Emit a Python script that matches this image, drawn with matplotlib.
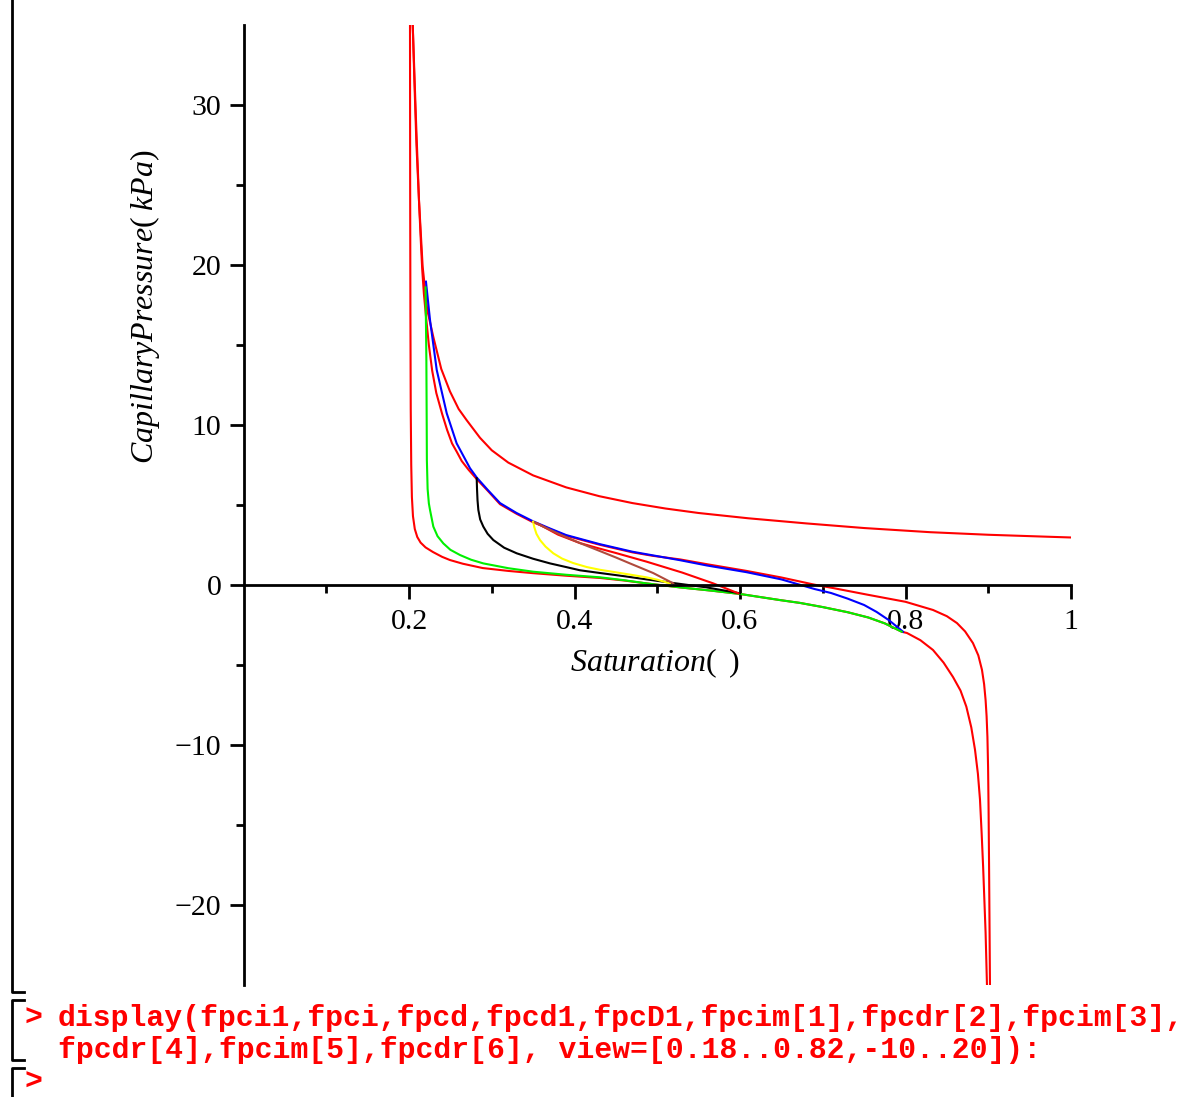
import matplotlib
matplotlib.use("Agg")
import matplotlib.pyplot as plt
from matplotlib.lines import Line2D

plt.rcParams["font.family"] = "Liberation Serif"
plt.rcParams["mathtext.fontset"] = "custom"
plt.rcParams["mathtext.it"] = "Liberation Serif:italic"
plt.rcParams["mathtext.rm"] = "Liberation Serif"

# ─── curves (Sw, Pc in kPa) ──────────────────────────────────────────────────
# primary imbibition (lowest red), hidden under green between 0.45 and 0.8
imb_x = [0.2012, 0.2014, 0.2017, 0.2021, 0.2027, 0.2035, 0.2048, 0.2070, 0.2100,
         0.2140, 0.2200, 0.2290, 0.2400, 0.2495, 0.2650, 0.2890, 0.3200, 0.3500,
         0.3900, 0.4310, 0.4600, 0.4870, 0.5275, 0.5650, 0.6000, 0.6480, 0.6725,
         0.7000, 0.7300, 0.7550, 0.7750, 0.7954, 0.8018, 0.8180, 0.8332, 0.8460,
         0.8574, 0.8665, 0.8735, 0.8795, 0.8840, 0.8875, 0.8900, 0.8920, 0.8938,
         0.8968, 0.8985]
imb_y = [35.0, 25.0, 17.0, 11.0, 7.5, 5.5, 4.3, 3.5, 3.0,
         2.65, 2.35, 2.06, 1.76, 1.56, 1.33, 1.06, 0.88, 0.74,
         0.58, 0.44, 0.28, 0.10, -0.15, -0.35, -0.56, -0.94, -1.12,
         -1.38, -1.70, -2.03, -2.40, -2.92, -3.00, -3.45, -4.06, -4.85,
         -5.75, -6.60, -7.60, -8.90, -10.3, -11.8, -13.4, -15.5, -17.6,
         -21.75, -25.1]

# main drainage (middle red), under the blue one up to ~0.6
drn_x = [0.2045, 0.2085, 0.2121, 0.2140, 0.2160, 0.2180, 0.2205, 0.2240, 0.2280,
         0.2330, 0.2400, 0.2460, 0.2520, 0.2580, 0.2637, 0.2720, 0.2818, 0.2950,
         0.3100, 0.3300, 0.3500, 0.3700, 0.3900, 0.4100, 0.4300, 0.4500, 0.4700,
         0.4950, 0.5275, 0.5600, 0.6080, 0.6500, 0.6900, 0.7124, 0.7535, 0.8000,
         0.8332, 0.8500, 0.8622, 0.8720, 0.8815, 0.8880, 0.8924, 0.8950, 0.8968,
         0.8980, 0.8990, 0.8998, 0.9004, 0.9010, 0.9015, 0.9021]
drn_y = [35.0, 29.0, 24.0, 21.8, 19.7, 18.2, 16.8, 15.0, 13.4,
         12.0, 10.7, 9.7, 8.85, 8.3, 7.75, 7.2, 6.62, 5.9,
         5.05, 4.45, 3.92, 3.5, 3.08, 2.80, 2.52, 2.28, 2.04,
         1.82, 1.60, 1.30, 0.88, 0.47, 0.02, -0.19, -0.60, -1.05,
         -1.56, -1.95, -2.38, -2.90, -3.63, -4.40, -5.30, -6.20, -7.20,
         -8.20, -9.50, -11.4, -14.0, -17.6, -21.0, -25.1]

# upper red (runs out to Sw = 1)
upp_x = [0.2045, 0.2065, 0.2090, 0.2121, 0.2165, 0.2220, 0.2294, 0.2390, 0.2495,
         0.2600, 0.2697, 0.2858, 0.3000, 0.3200, 0.3500, 0.3900, 0.4300, 0.4700,
         0.5100, 0.5500, 0.6100, 0.6800, 0.7500, 0.8300, 0.9000, 0.9700, 1.0000]
upp_y = [35.0, 31.5, 27.5, 24.0, 19.9, 17.2, 15.5, 13.5, 12.1,
         11.0, 10.3, 9.2, 8.42, 7.65, 6.85, 6.10, 5.55, 5.12,
         4.78, 4.50, 4.17, 3.85, 3.56, 3.30, 3.14, 3.02, 2.97]

# blue scanning drainage from Sw = 0.22
blu_x = [0.2205, 0.2254, 0.2335, 0.2456, 0.2576, 0.2737, 0.2818, 0.2950, 0.3100,
         0.3300, 0.3500, 0.3700, 0.3900, 0.4100, 0.4300, 0.4500, 0.4700, 0.4950,
         0.5275, 0.5600, 0.6080, 0.6500, 0.6720, 0.6900, 0.7100, 0.7300, 0.7500,
         0.7650, 0.7800, 0.7970]
blu_y = [18.96, 16.56, 13.44, 10.73, 8.85, 7.30, 6.72, 5.95, 5.12,
         4.50, 3.98, 3.54, 3.12, 2.84, 2.56, 2.32, 2.08, 1.85,
         1.55, 1.22, 0.80, 0.35, 0.02, -0.25, -0.50, -0.85, -1.25,
         -1.68, -2.20, -2.92]

# green scanning imbibition from Sw = 0.22
grn_x = [0.2200, 0.2210, 0.2214, 0.2216, 0.2225, 0.2240, 0.2254, 0.2294, 0.2345,
         0.2415, 0.2500, 0.2616, 0.2750, 0.2898, 0.3200, 0.3502, 0.3900, 0.4308,
         0.4600, 0.4870, 0.5275, 0.5650, 0.6000, 0.6480, 0.6725, 0.7000, 0.7300,
         0.7550, 0.7750, 0.7954]
grn_y = [18.6, 14.0, 10.0, 7.8, 6.0, 5.1, 4.69, 3.65, 3.05,
         2.60, 2.20, 1.875, 1.58, 1.35, 1.05, 0.83, 0.64, 0.48,
         0.30, 0.10, -0.15, -0.35, -0.56, -0.94, -1.12, -1.38, -1.70,
         -2.03, -2.40, -2.92]

# black scanning imbibition from Sw = 0.28
blk_x = [0.2818, 0.2822, 0.2828, 0.2838, 0.2860, 0.2898, 0.2950, 0.3019, 0.3150,
         0.3302, 0.3500, 0.3704, 0.3900, 0.4066, 0.4308, 0.4600, 0.4870, 0.5200,
         0.5597, 0.6000]
blk_y = [6.67, 6.00, 5.30, 4.69, 4.10, 3.65, 3.20, 2.81, 2.33,
         1.98, 1.64, 1.35, 1.12, 0.92, 0.75, 0.55, 0.35, 0.12,
         -0.15, -0.52]

# yellow scanning imbibition from Sw = 0.35
yel_x = [0.3500, 0.3515, 0.3540, 0.3583, 0.3650, 0.3744, 0.3850, 0.3985, 0.4150,
         0.4308, 0.4469, 0.4670, 0.4870, 0.5000, 0.5154]
yel_y = [3.96, 3.60, 3.20, 2.81, 2.40, 1.98, 1.65, 1.37, 1.12,
         0.95, 0.82, 0.65, 0.48, 0.33, 0.10]

# brown and red scanning curves leaving the envelope near Sw = 0.35
brn_x = [0.3520, 0.3623, 0.3850, 0.4066, 0.4308, 0.4500, 0.4670, 0.4950, 0.5194]
brn_y = [3.92, 3.65, 3.10, 2.62, 2.12, 1.72, 1.35, 0.75, 0.10]

rsc_x = [0.3550, 0.3800, 0.4066, 0.4300, 0.4500, 0.4870, 0.5300, 0.5677, 0.5980]
rsc_y = [3.85, 3.15, 2.62, 2.28, 2.00, 1.46, 0.78, 0.10, -0.52]

xticks = [0.2, 0.4, 0.6, 0.8, 1.0]
xtick_labels = ["0.2", "0.4", "0.6", "0.8", "1"]
yticks = [-20, -10, 0, 10, 20, 30]
ytick_labels = ["\u221220", "\u221210", "0", "10", "20", "30"]

line1 = "display(fpci1,fpci,fpcd,fpcd1,fpcD1,fpcim[1],fpcdr[2],fpcim[3],"
line2 = "fpcdr[4],fpcim[5],fpcdr[6], view=[0.18..0.82,-10..20]):"

# ─── figure ──────────────────────────────────────────────────────────────────
W, H = 1186, 1097
fig = plt.figure(figsize=(W / 100, H / 100), dpi=100)
ax = fig.add_axes([243.5 / W, 1 - 985 / H, 827.5 / W, 960 / H])
ax.set_xlim(0, 1)
ax.set_ylim(-25, 35)

lw = 1.5
ax.plot(upp_x, upp_y, color="#ff0000", lw=lw)
ax.plot(drn_x, drn_y, color="#ff0000", lw=lw)
ax.plot(imb_x, imb_y, color="#ff0000", lw=lw)
ax.plot(blu_x, blu_y, color="#0000ff", lw=lw)
ax.plot(grn_x, grn_y, color="#00f000", lw=lw)
ax.plot(blk_x, blk_y, color="black", lw=lw)
ax.plot(yel_x, yel_y, color="#ffff00", lw=lw)
ax.plot(rsc_x, rsc_y, color="#ff0000", lw=lw)
ax.plot(brn_x, brn_y, color="#b04a3c", lw=lw)

for s in ["top", "right"]:
    ax.spines[s].set_visible(False)
ax.spines["bottom"].set_position(("data", 0))
ax.spines["left"].set_position(("data", 0))
for s in ["bottom", "left"]:
    ax.spines[s].set_linewidth(2.0)

ax.set_xticks(xticks)
ax.set_xticklabels(xtick_labels)
ax.set_xticks([0.1, 0.3, 0.5, 0.7, 0.9], minor=True)
ax.set_yticks(yticks)
ax.set_yticklabels(ytick_labels)
ax.set_yticks([-15, -5, 5, 15, 25], minor=True)
ax.tick_params(which="major", direction="out", length=10, width=2.0,
               labelsize=21.5, pad=7)
ax.tick_params(which="minor", direction="out", length=6, width=2.0)
ax.tick_params(axis="y", pad=6)

fig.text(655 / W, 1 - 663 / H, r"$Saturation(\;\;)$", fontsize=23,
         ha="center", va="center")
fig.text(145 / W, 1 - 307 / H, r"$CapillaryPressure(\;kPa)$", fontsize=23,
         ha="center", va="center", rotation=90)

# ─── worksheet brackets and input line ───────────────────────────────────────
def px_line(xs, ys, color="black", lw=2.0):
    fig.add_artist(Line2D([x / W for x in xs], [1 - y / H for y in ys],
                          color=color, lw=lw, transform=fig.transFigure))

px_line([12, 12, 24], [0, 992, 992])
px_line([24, 12, 12, 24], [1000, 1000, 1060, 1060])
px_line([24, 12, 12], [1068, 1068, 1097])

mono = dict(family="Liberation Mono", weight="bold", color="#ff0000",
            fontsize=21.4, va="center", ha="left")
fig.text(24 / W, 1 - 1018 / H, ">", **mono)
fig.text(24 / W, 1 - 1082 / H, ">", **mono)
fig.text(58 / W, 1 - 1018 / H, line1, **mono)
fig.text(58 / W, 1 - 1050 / H, line2, **mono)

fig.savefig("out.png", dpi=100)
